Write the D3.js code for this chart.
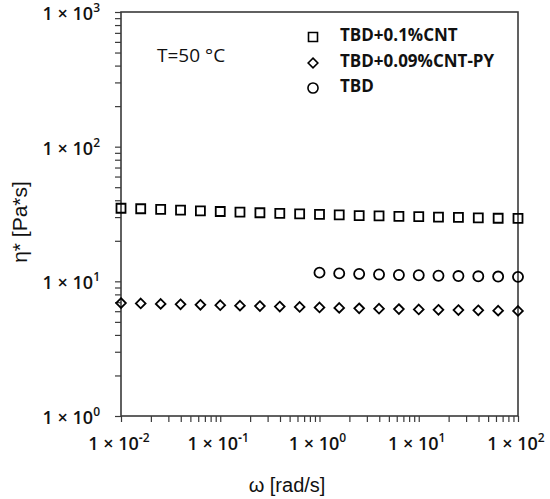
<!DOCTYPE html>
<html>
<head>
<meta charset="utf-8">
<script src="https://cdn.jsdelivr.net/npm/d3@7"></script>
<style>
  html, body { margin: 0; padding: 0; background: #fff; }
  svg { display: block; }
</style>
</head>
<body>
<svg id="chart" width="550" height="499"></svg>
<script>
// ---- data ----
const omegaAll = [0.01, 0.0158, 0.0251, 0.0398, 0.0631, 0.1, 0.158, 0.251, 0.398, 0.631,
                  1, 1.58, 2.51, 3.98, 6.31, 10, 15.8, 25.1, 39.8, 63.1, 100];
const omegaTBD = [1, 1.58, 2.51, 3.98, 6.31, 10, 15.8, 25.1, 39.8, 63.1, 100];
const etaCNT = [34.9, 34.6, 34.2, 33.8, 33.4, 33.0, 32.6, 32.3, 32.0, 31.7,
                31.4, 31.1, 30.8, 30.6, 30.4, 30.2, 30.0, 29.8, 29.6, 29.4, 29.3];
const etaCNTPY = [6.90, 6.85, 6.80, 6.75, 6.70, 6.65, 6.60, 6.55, 6.50, 6.45,
                  6.40, 6.35, 6.30, 6.26, 6.22, 6.18, 6.15, 6.12, 6.09, 6.06, 6.03];
const etaTBD = [11.6, 11.45, 11.35, 11.25, 11.15, 11.1, 11.0, 10.95, 10.9, 10.85, 10.8];
const seriesNames = ["TBD+0.1%CNT", "TBD+0.09%CNT-PY", "TBD"];
const xTickExps = [-2, -1, 0, 1, 2];
const yTickExps = [0, 1, 2, 3];

// ---- layout ----
const svg = d3.select("#chart");
const L = 121, R = 518, T = 12, B = 416;
const x = d3.scaleLog().domain([0.01, 100]).range([L, R]);
const y = d3.scaleLog().domain([1, 1000]).range([B, T]);
const axisColor = "#3a3a3a";

function logTicks(lo, hi){
  const out = [];
  for (let e = lo; e < hi; e++) for (let m = 1; m < 10; m++) out.push(m * Math.pow(10, e));
  out.push(Math.pow(10, hi));
  return out;
}

// axes ticks
svg.append("g").attr("transform", `translate(${L},0)`)
  .call(d3.axisLeft(y).tickValues(logTicks(0, 3)).tickSize(6).tickFormat(""))
  .call(g => g.select(".domain").remove())
  .call(g => g.selectAll("line").attr("stroke", axisColor).attr("stroke-width", 1.2));
svg.append("g").attr("transform", `translate(0,${B})`)
  .call(d3.axisBottom(x).tickValues(logTicks(-2, 2)).tickSize(6).tickFormat(""))
  .call(g => g.select(".domain").remove())
  .call(g => g.selectAll("line").attr("stroke", axisColor).attr("stroke-width", 1.2));

// frame
svg.append("rect").attr("x", L).attr("y", T).attr("width", R - L).attr("height", B - T)
  .attr("fill", "none").attr("stroke", axisColor).attr("stroke-width", 1.6);

// tick labels with superscript exponents
const tickFont = "'Open Sans', sans-serif";
function powLabel(sel){
  sel.attr("font-family", tickFont).attr("font-weight", 600).attr("font-size", 18).attr("fill", "#111");
  sel.append("tspan").text("1 \u00D7 10");
  sel.append("tspan").attr("font-size", 12).attr("dy", -8).text(d => String(d).replace("-", "\u2011"));
}
svg.append("g").selectAll("text").data(yTickExps).join("text")
  .attr("x", 100).attr("y", d => y(Math.pow(10, d)) + 8)
  .attr("text-anchor", "end").call(powLabel);
svg.append("g").selectAll("text").data(xTickExps).join("text")
  .attr("x", d => x(Math.pow(10, d)) - 2).attr("y", 450)
  .attr("text-anchor", "middle").call(powLabel);

// axis titles
svg.append("text").attr("x", 287).attr("y", 492).attr("text-anchor", "middle")
  .attr("font-family", "'Liberation Sans', Arial, sans-serif").attr("font-size", 20).attr("fill", "#111")
  .text("\u03C9 [rad/s]");
svg.append("text").attr("transform", "translate(27,222) rotate(-90)").attr("text-anchor", "middle")
  .attr("font-family", "'Liberation Sans', Arial, sans-serif").attr("font-size", 21).attr("fill", "#111")
  .text("\u03B7* [Pa*s]");

// annotation
svg.append("text").attr("x", 157).attr("y", 62)
  .attr("font-family", tickFont).attr("font-size", 19).attr("fill", "#111")
  .text("T=50 \u00B0C");

// markers
const sq = d3.symbol().type(d3.symbolSquare).size(81);
const di = d3.symbol().type(d3.symbolDiamond2).size(60);
const ci = d3.symbol().type(d3.symbolCircle).size(80);
const mk = [
  {xs: omegaAll, ys: etaCNT, sym: sq},
  {xs: omegaAll, ys: etaCNTPY, sym: di},
  {xs: omegaTBD, ys: etaTBD, sym: ci}
];
mk.forEach(s => {
  svg.append("g").selectAll("path").data(s.xs.map((v, i) => [v, s.ys[i]])).join("path")
    .attr("d", s.sym)
    .attr("transform", d => `translate(${x(d[0])},${y(d[1])})`)
    .attr("fill", "none").attr("stroke", "#000").attr("stroke-width", 1.8);
});

// legend
const legY = [35, 61, 86];
const legSym = [sq, di, ci];
seriesNames.forEach((n, i) => {
  svg.append("path").attr("d", legSym[i]).attr("transform", `translate(313,${legY[i] + 2})`)
    .attr("fill", "none").attr("stroke", "#000").attr("stroke-width", 1.6);
  svg.append("text").attr("x", 340).attr("y", legY[i] + 6)
    .attr("font-family", tickFont).attr("font-weight", 700).attr("font-size", 17).attr("fill", "#111")
    .text(n);
});
</script>
</body>
</html>
